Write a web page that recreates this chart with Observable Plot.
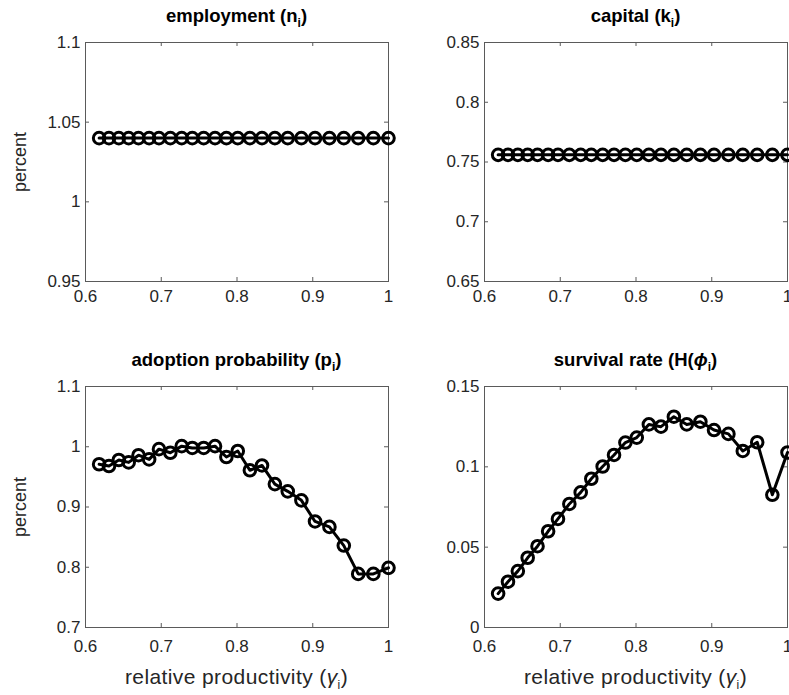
<!DOCTYPE html>
<html><head><meta charset="utf-8">
<script src="https://cdn.jsdelivr.net/npm/d3@7"></script>
<script src="https://cdn.jsdelivr.net/npm/@observablehq/plot@0.6"></script>
<style>
body{margin:0;background:#fff;font-family:"Liberation Sans",Arial,sans-serif;}
#wrap{position:relative;width:789px;height:695px;overflow:hidden;background:#fff;}
.t{position:absolute;width:303px;font-weight:bold;font-size:18.5px;line-height:22px;text-align:center;color:#000;white-space:nowrap;}
.t sub,.xl sub{font-size:12px;vertical-align:-5px;line-height:0;}
.xl{position:absolute;width:303px;font-size:21px;letter-spacing:0.4px;line-height:24px;text-align:center;color:#262626;white-space:nowrap;}
.yl{position:absolute;width:120px;font-size:18px;line-height:24px;text-align:center;color:#262626;transform:rotate(-90deg);}
#wrap svg{position:absolute;overflow:visible;}
</style></head>
<body><div id="wrap"></div>
<script>
// relative productivity (x values)
const gamma = [0.618,0.631,0.644,0.657,0.670,0.684,0.697,0.712,0.727,0.741,0.756,0.771,0.786,0.801,0.817,0.833,0.850,0.867,0.885,0.903,0.922,0.941,0.960,0.980,1.000];
const employment = [1.04,1.04,1.04,1.04,1.04,1.04,1.04,1.04,1.04,1.04,1.04,1.04,1.04,1.04,1.04,1.04,1.04,1.04,1.04,1.04,1.04,1.04,1.04,1.04,1.04];
const capital = [0.756,0.756,0.756,0.756,0.756,0.756,0.756,0.756,0.756,0.756,0.756,0.756,0.756,0.756,0.756,0.756,0.756,0.756,0.756,0.756,0.756,0.756,0.756,0.756,0.756];
const adoption = [0.971,0.968,0.978,0.974,0.986,0.979,0.996,0.990,1.001,0.998,0.998,1.001,0.983,0.993,0.961,0.969,0.938,0.926,0.911,0.876,0.867,0.836,0.789,0.789,0.799];
const survival = [0.0211,0.0285,0.0351,0.0434,0.0506,0.0599,0.0676,0.0769,0.0841,0.0926,0.1002,0.1074,0.1151,0.1182,0.1264,0.1250,0.1312,0.1264,0.1281,0.1229,0.1205,0.1099,0.1153,0.0826,0.1089];

const xTicks = [0.6,0.7,0.8,0.9,1];
const employmentTicks = [0.95,1,1.05,1.1];
const capitalTicks = [0.65,0.7,0.75,0.8,0.85];
const adoptionTicks = [0.7,0.8,0.9,1,1.1];
const survivalTicks = [0,0.05,0.1,0.15];

const titles = ["employment (n<sub>i</sub>)","capital (k<sub>i</sub>)","adoption probability (p<sub>i</sub>)","survival rate (H(<i>&#981;</i><sub>i</sub>)"];
const yLabel = "percent";
const xLabel = "relative productivity (<i>&gamma;</i><sub>i</sub>)";

const fmt = d3.format("~g");
const wrap = document.getElementById("wrap");
const axisColor = "#262626";
const frameColor = "#5a5a5a";

function panel(values, ticks, left, top, fw, fh, xPad) {
  const data = gamma.map((g, i) => ({g, v: values[i]}));
  const mL = 70, mR = 10, mT = 10, mB = 40;
  const svg = Plot.plot({
    width: fw + mL + mR, height: fh + mT + mB,
    marginLeft: mL, marginRight: mR, marginTop: mT, marginBottom: mB,
    x: {domain: [0.6, 1], label: null},
    y: {domain: [ticks[0], ticks[ticks.length - 1]], label: null},
    style: {fontFamily: '"Liberation Sans", Arial, sans-serif', color: axisColor, background: "transparent", overflow: "visible"},
    marks: [
      Plot.axisX(xTicks, {tickFormat: fmt, tickSize: 0, tickPadding: xPad, fontSize: 17, fill: axisColor, label: null}),
      Plot.axisY(ticks, {tickFormat: fmt, tickSize: 0, tickPadding: 5, fontSize: 17, fill: axisColor, label: null}),
      Plot.tickX(xTicks, {x: d => d, insetTop: fh - 4, stroke: frameColor, strokeWidth: 1}),
      Plot.tickX(xTicks, {x: d => d, insetBottom: fh - 4, stroke: frameColor, strokeWidth: 1}),
      Plot.tickY(ticks, {y: d => d, insetRight: fw - 4, stroke: frameColor, strokeWidth: 1}),
      Plot.tickY(ticks, {y: d => d, insetLeft: fw - 4, stroke: frameColor, strokeWidth: 1}),
      Plot.frame({stroke: frameColor, strokeWidth: 1}),
      Plot.line(data, {x: "g", y: "v", stroke: "black", strokeWidth: 3}),
      Plot.dot(data, {x: "g", y: "v", r: 5.8, stroke: "black", strokeWidth: 3, fill: "none"})
    ]
  });
  svg.style.left = (left - mL) + "px";
  svg.style.top = (top - mT) + "px";
  wrap.appendChild(svg);
}

const panels = [
  {values: employment, ticks: employmentTicks, left: 85, top: 42, h: 239, xPad: 8},
  {values: capital, ticks: capitalTicks, left: 484, top: 42, h: 239, xPad: 8},
  {values: adoption, ticks: adoptionTicks, left: 85, top: 386, h: 241, xPad: 12},
  {values: survival, ticks: survivalTicks, left: 484, top: 386, h: 241, xPad: 12}
];
panels.forEach((p, i) => {
  panel(p.values, p.ticks, p.left, p.top, 303, p.h, p.xPad);
  const t = document.createElement("div");
  t.className = "t";
  t.innerHTML = titles[i];
  t.style.left = p.left + "px";
  t.style.top = (p.top - 37) + "px";
  wrap.appendChild(t);
  if (i % 2 === 0) {
    const yl = document.createElement("div");
    yl.className = "yl";
    yl.textContent = yLabel;
    yl.style.left = (20 - 60) + "px";
    yl.style.top = (p.top + p.h / 2 - 12) + "px";
    wrap.appendChild(yl);
  }
  if (i >= 2) {
    const xl = document.createElement("div");
    xl.className = "xl";
    xl.innerHTML = xLabel;
    xl.style.left = p.left + "px";
    xl.style.top = (p.top + p.h + 38) + "px";
    wrap.appendChild(xl);
  }
});
</script></body></html>
